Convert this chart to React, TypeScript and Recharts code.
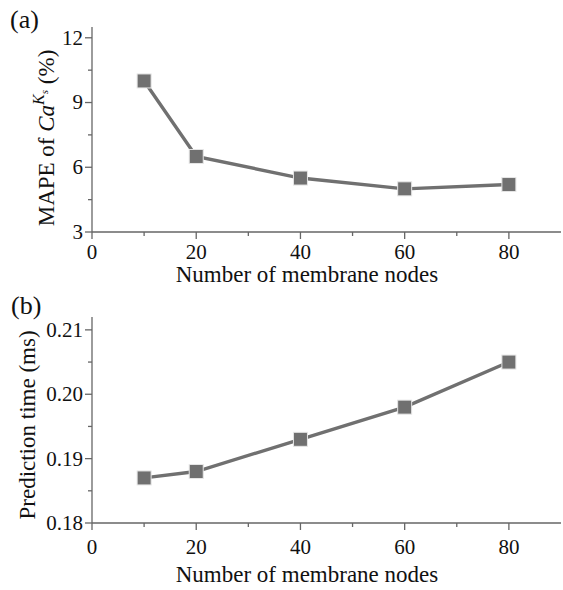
import React from 'react';
import { LineChart, Line, XAxis, YAxis } from 'recharts';

const nodes = [10, 20, 40, 60, 80];
const mapeValues = [10.0, 6.5, 5.5, 5.0, 5.2];
const timeValues = [0.187, 0.188, 0.193, 0.198, 0.205];

const xTicks = [0, 10, 20, 30, 40, 50, 60, 70, 80];
const xMajor = [0, 20, 40, 60, 80];
const mapeTicks = [3, 4.5, 6, 7.5, 9, 10.5, 12];
const mapeMajor = [3, 6, 9, 12];
const timeTicks = [0.18, 0.185, 0.19, 0.195, 0.2, 0.205, 0.21];
const timeMajor = [0.18, 0.19, 0.2, 0.21];

const mapeData = nodes.map((n, i) => ({ n, v: mapeValues[i] }));
const timeData = nodes.map((n, i) => ({ n, v: timeValues[i] }));

const FONT = '"Liberation Serif", "Times New Roman", serif';
const AXIS = '#666666';
const LINE = '#707070';
const TS = 6;
const TM = 2;

const isMajor = (v: number, list: number[]) => list.some((m) => Math.abs(m - v) < 1e-9);

const makeXTick = (labelOffset: number) => (props: any) => {
  const { x, y, payload } = props;
  const axisY = y - TS - TM;
  const major = isMajor(payload.value, xMajor);
  const len = major ? 7 : 4;
  return (
    <g>
      <line x1={x} x2={x} y1={axisY} y2={axisY + len} stroke={AXIS} strokeWidth={1.3} />
      {major && (
        <text x={x} y={axisY + labelOffset} textAnchor="middle" fontSize={21} fontFamily={FONT} fill="#111">
          {payload.value}
        </text>
      )}
    </g>
  );
};

const makeYTick = (major: number[], fmt: (v: number) => string) => (props: any) => {
  const { x, y, payload } = props;
  const axisX = x + TS + TM;
  const mj = isMajor(payload.value, major);
  const len = mj ? 7 : 4;
  return (
    <g>
      <line x1={axisX - len} x2={axisX} y1={y} y2={y} stroke={AXIS} strokeWidth={1.3} />
      {mj && (
        <text x={axisX - 9} y={y} dy="0.33em" textAnchor="end" fontSize={21} fontFamily={FONT} fill="#111">
          {fmt(payload.value)}
        </text>
      )}
    </g>
  );
};

const SquareDot = (props: any) => {
  const { cx, cy } = props;
  if (cx == null || cy == null) return null;
  return <rect x={cx - 7} y={cy - 7} width={14} height={14} fill={LINE} stroke="#e6e6e6" strokeWidth={1} />;
};

const XTitle = (baseline: number) => () => (
  <text x={307} y={baseline} textAnchor="middle" fontSize={23} fontFamily={FONT} fill="#111">
    Number of membrane nodes
  </text>
);

const TopYLabel = () => (
  <g>
    <text x={10} y={28} fontSize={26} fontFamily={FONT} fill="#111">(a)</text>
    <text
      x={54}
      y={138}
      textAnchor="middle"
      transform="rotate(-90, 54, 138)"
      fontSize={23}
      fontFamily={FONT}
      fill="#111"
    >
      <tspan>MAPE of </tspan>
      <tspan fontStyle="italic">Ca</tspan>
      <tspan fontStyle="italic" fontSize={16} dy={-10}>K</tspan>
      <tspan fontStyle="italic" fontSize={11} dy={4}>s</tspan>
      <tspan dy={6}> (%)</tspan>
    </text>
  </g>
);

const BottomYLabel = () => (
  <g>
    <text x={11} y={24} fontSize={26} fontFamily={FONT} fill="#111">(b)</text>
    <text
      x={35}
      y={135}
      textAnchor="middle"
      transform="rotate(-90, 35, 135)"
      fontSize={23}
      fontFamily={FONT}
      fill="#111"
    >
      Prediction time (ms)
    </text>
  </g>
);

export default function App() {
  return (
    <div style={{ position: 'absolute', left: 0, top: 0, width: 563, height: 590, background: '#fff' }}>
      <LineChart width={563} height={290} data={mapeData} margin={{ top: 27, right: 2, left: 0, bottom: 0 }}>
        <XAxis
          dataKey="n"
          type="number"
          domain={[0, 90]}
          ticks={xTicks}
          interval={0}
          height={58}
          tickSize={TS}
          tickMargin={TM}
          tickLine={false}
          axisLine={{ stroke: AXIS, strokeWidth: 1.3 }}
          tick={makeXTick(27)}
          label={{ content: XTitle(50 + 232) }}
        />
        <YAxis
          type="number"
          domain={[3, 12.5]}
          ticks={mapeTicks}
          interval={0}
          width={92}
          tickSize={TS}
          tickMargin={TM}
          tickLine={false}
          allowDataOverflow
          axisLine={{ stroke: AXIS, strokeWidth: 1.3 }}
          tick={makeYTick(mapeMajor, (v) => String(v))}
          label={{ content: TopYLabel }}
        />
        <Line
          dataKey="v"
          stroke={LINE}
          strokeWidth={3.4}
          dot={<SquareDot />}
          activeDot={false}
          isAnimationActive={false}
        />
      </LineChart>
      <LineChart width={563} height={300} data={timeData} margin={{ top: 27, right: 2, left: 0, bottom: 0 }}>
        <XAxis
          dataKey="n"
          type="number"
          domain={[0, 90]}
          ticks={xTicks}
          interval={0}
          height={67}
          tickSize={TS}
          tickMargin={TM}
          tickLine={false}
          axisLine={{ stroke: AXIS, strokeWidth: 1.3 }}
          tick={makeXTick(31)}
          label={{ content: XTitle(59 + 233) }}
        />
        <YAxis
          type="number"
          domain={[0.18, 0.212]}
          ticks={timeTicks}
          interval={0}
          width={92}
          tickSize={TS}
          tickMargin={TM}
          tickLine={false}
          allowDataOverflow
          axisLine={{ stroke: AXIS, strokeWidth: 1.3 }}
          tick={makeYTick(timeMajor, (v) => v.toFixed(2))}
          label={{ content: BottomYLabel }}
        />
        <Line
          dataKey="v"
          stroke={LINE}
          strokeWidth={3.4}
          dot={<SquareDot />}
          activeDot={false}
          isAnimationActive={false}
        />
      </LineChart>
    </div>
  );
}
